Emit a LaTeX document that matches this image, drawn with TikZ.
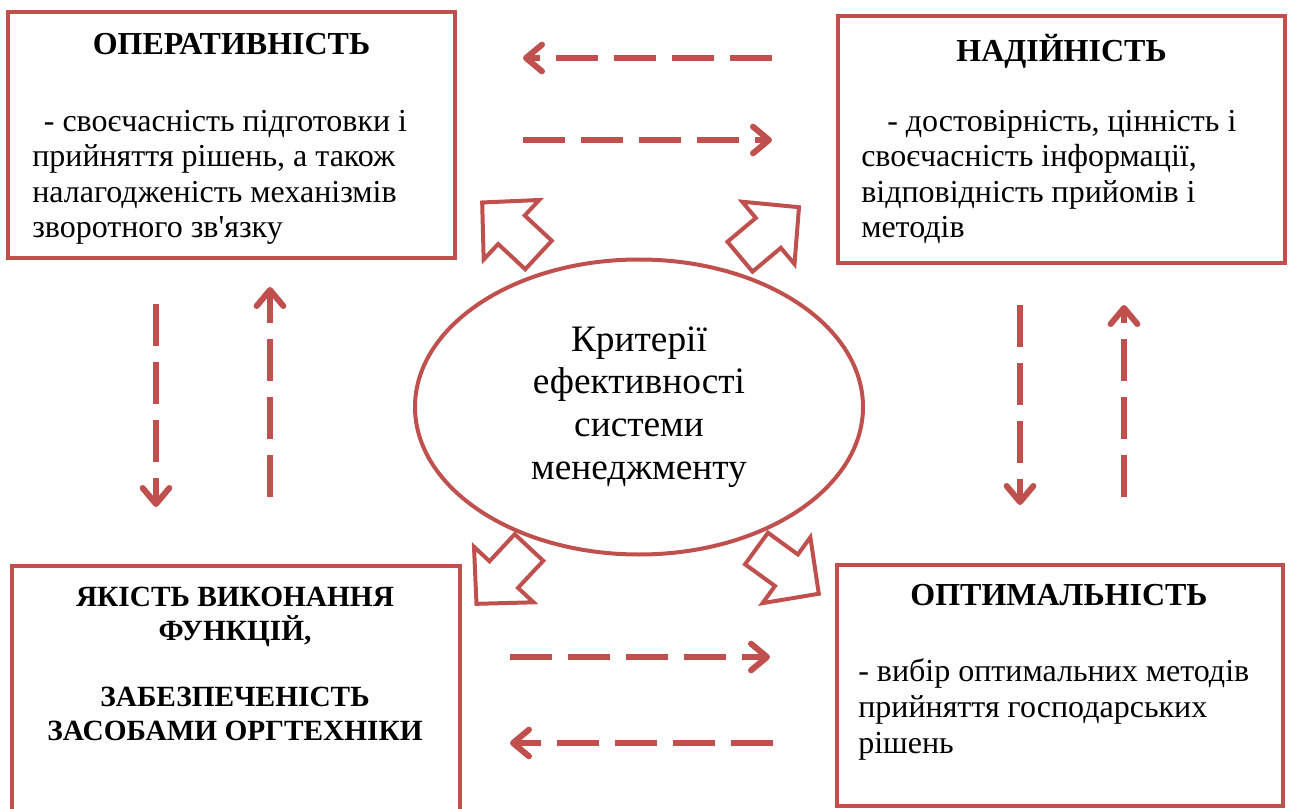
\documentclass[tikz,border=0pt]{standalone}
\usepackage{fontspec}
\setmainfont{Liberation Serif}
\usetikzlibrary{shapes.geometric,arrows.meta}
\definecolor{accred}{HTML}{C0504D}
\begin{document}
\begin{tikzpicture}[x=0.75pt,y=0.75pt,
    box/.style={draw=accred,line width=3pt,fill=white,inner sep=0pt},
    ttl/.style={font=\fontsize{24}{26}\selectfont\bfseries,inner sep=0pt},
    txt/.style={font=\fontsize{24}{26.7}\selectfont,align=left,inner sep=0pt},
    blk/.style={draw=accred,line width=3pt,fill=white},
    dsh/.style={draw=accred,line width=4.5pt,dash pattern=on 31.5pt off 12pt,
      -{Straight Barb[length=12pt,width=20pt,round]}}]
  \useasboundingbox (0,0) rectangle (1292,-809);
  % four boxes
  \node[box,minimum width=335.25pt,minimum height=184.5pt] (oper) at (231.5,-135) {};
  \node[box,minimum width=335.25pt,minimum height=185.25pt] (nad) at (1061.5,-139.5) {};
  \node[box,minimum width=336pt,minimum height=190.5pt] (yak) at (236,-693) {};
  \node[box,minimum width=334.5pt,minimum height=180.75pt] (opt) at (1060,-685.5) {};
  % texts (base = last line)
  \node[ttl,anchor=base] (operT) at (231.5,-55) {ОПЕРАТИВНІСТЬ};
  \node[txt,anchor=base west] (operB) at (32,-238)
    {\hspace*{8.7pt}- своєчасність підготовки і\\
     прийняття рішень, а також\\
     налагодженість механізмів\\
     зворотного зв\textquotesingle язку};
  \node[ttl,anchor=base] (nadT) at (1061.5,-62) {НАДІЙНІСТЬ};
  \node[txt,anchor=base west] (nadB) at (861,-238)
    {\hspace*{19.5pt}- достовірність, цінність і\\
     своєчасність інформації,\\
     відповідність прийомів і\\
     методів};
  \node[ttl,anchor=base,align=center,font=\fontsize{22}{25}\selectfont\bfseries] (yakT) at (235,-740)
    {ЯКІСТЬ ВИКОНАННЯ\\ ФУНКЦІЙ,\\[25pt] ЗАБЕЗПЕЧЕНІСТЬ\\ ЗАСОБАМИ ОРГТЕХНІКИ};
  \node[ttl,anchor=base] (optT) at (1059,-605) {ОПТИМАЛЬНІСТЬ};
  \node[txt,anchor=base west] (optB) at (858,-753)
    {- вибір оптимальних методів\\
     прийняття господарських\\
     рішень};
  % block arrows
  \draw[blk,shift={(538.5,-255)},rotate=137] (0,19.5) -- (37,19.5) -- (37,40.7) -- (77,0)
    -- (37,-40.7) -- (37,-19.5) -- (0,-19.5) -- cycle;
  \draw[blk,shift={(740,-256.7)},rotate=40] (0,19.5) -- (37,19.5) -- (37,40.7) -- (77,0)
    -- (37,-40.7) -- (37,-19.5) -- (0,-19.5) -- cycle;
  \draw[blk,shift={(529,-547.5)},rotate=227] (0,19.5) -- (37,19.5) -- (37,40.7) -- (77,0)
    -- (37,-40.7) -- (37,-19.5) -- (0,-19.5) -- cycle;
  \draw[blk,shift={(756.5,-548.5)},rotate=-36] (0,19.5) -- (37,19.5) -- (37,40.7) -- (77,0)
    -- (37,-40.7) -- (37,-19.5) -- (0,-19.5) -- cycle;
  % centre
  \node[ellipse,draw=accred,line width=3pt,fill=white,minimum width=336pt,minimum height=221.25pt,
    align=center,inner sep=0pt,font=\fontsize{28}{32}\selectfont] (krit) at (639,-407)
    {Критерії\\ ефективності\\ системи\\ менеджменту};
  % dashed arrows
  \coordinate (tA) at (772,-58);  \coordinate (tB) at (523,-58);
  \coordinate (tC) at (523,-140); \coordinate (tD) at (772,-140);
  \coordinate (bA) at (510,-657); \coordinate (bB) at (770,-657);
  \coordinate (bC) at (773,-743); \coordinate (bD) at (510,-743);
  \coordinate (lA) at (156,-304); \coordinate (lB) at (156,-507);
  \coordinate (lC) at (270,-497); \coordinate (lD) at (270,-287);
  \coordinate (rA) at (1020,-305); \coordinate (rB) at (1020,-505);
  \coordinate (rC) at (1124,-497); \coordinate (rD) at (1124,-305);
  \draw[dsh] (tA) -- (tB);
  \draw[dsh] (tC) -- (tD);
  \draw[dsh] (bA) -- (bB);
  \draw[dsh] (bC) -- (bD);
  \draw[dsh] (lA) -- (lB);
  \draw[dsh] (lC) -- (lD);
  \draw[dsh] (rA) -- (rB);
  \draw[dsh] (rC) -- (rD);
\end{tikzpicture}
\end{document}
